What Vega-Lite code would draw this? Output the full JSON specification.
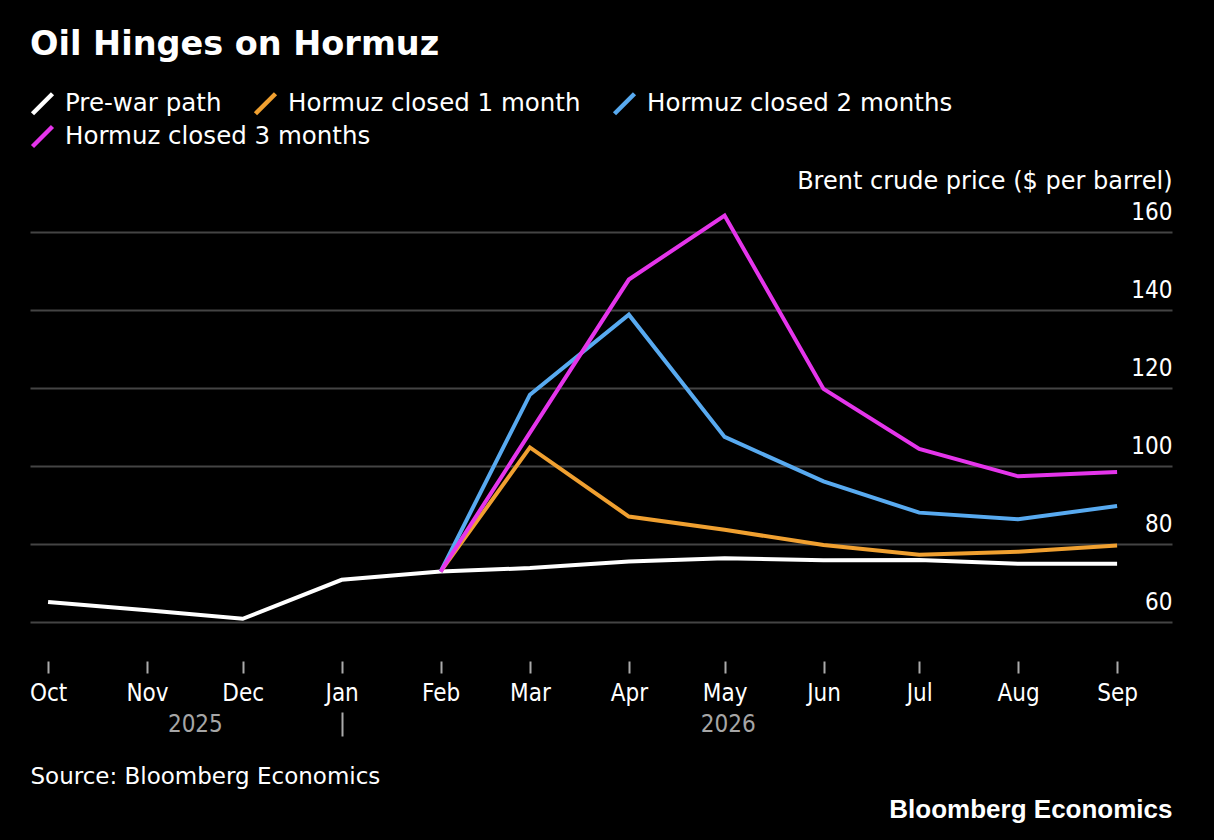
{
  "$schema": "https://vega.github.io/schema/vega-lite/v6.json",
  "width": 1142,
  "height": 449,
  "autosize": {"type": "none"},
  "padding": {"left": 30, "top": 212, "right": 42, "bottom": 179},
  "background": "#000000",
  "config": {
    "view": {"stroke": null},
    "legend": {
      "symbolType": "M-1,1L1,-1",
      "symbolSize": 400,
      "symbolStrokeWidth": 4.5,
      "labelFont": "DejaVu Sans",
      "labelFontSize": 24.5,
      "labelColor": "#ffffff",
      "labelLimit": 0,
      "labelOffset": 10,
      "columnPadding": 24,
      "rowPadding": 0
    }
  },
  "title": {
    "text": "Oil Hinges on Hormuz",
    "anchor": "start",
    "frame": "group",
    "font": "DejaVu Sans",
    "fontSize": 33.5,
    "fontWeight": "bold",
    "color": "#ffffff",
    "offset": 29
  },
  "data": {
    "values": [
      {"date": "2025-10-01", "series": "Pre-war path", "price": 65.1},
      {"date": "2025-11-01", "series": "Pre-war path", "price": 63.0},
      {"date": "2025-12-01", "series": "Pre-war path", "price": 60.8},
      {"date": "2026-01-01", "series": "Pre-war path", "price": 70.8},
      {"date": "2026-02-01", "series": "Pre-war path", "price": 72.9},
      {"date": "2026-03-01", "series": "Pre-war path", "price": 73.8},
      {"date": "2026-04-01", "series": "Pre-war path", "price": 75.5},
      {"date": "2026-05-01", "series": "Pre-war path", "price": 76.3},
      {"date": "2026-06-01", "series": "Pre-war path", "price": 75.8},
      {"date": "2026-07-01", "series": "Pre-war path", "price": 75.9},
      {"date": "2026-08-01", "series": "Pre-war path", "price": 74.9},
      {"date": "2026-09-01", "series": "Pre-war path", "price": 74.9},
      {"date": "2026-02-01", "series": "Hormuz closed 1 month", "price": 72.9},
      {"date": "2026-03-01", "series": "Hormuz closed 1 month", "price": 104.7},
      {"date": "2026-04-01", "series": "Hormuz closed 1 month", "price": 87.0},
      {"date": "2026-05-01", "series": "Hormuz closed 1 month", "price": 83.6},
      {"date": "2026-06-01", "series": "Hormuz closed 1 month", "price": 79.7},
      {"date": "2026-07-01", "series": "Hormuz closed 1 month", "price": 77.2},
      {"date": "2026-08-01", "series": "Hormuz closed 1 month", "price": 78.0},
      {"date": "2026-09-01", "series": "Hormuz closed 1 month", "price": 79.6},
      {"date": "2026-02-01", "series": "Hormuz closed 2 months", "price": 72.9},
      {"date": "2026-03-01", "series": "Hormuz closed 2 months", "price": 118.2},
      {"date": "2026-04-01", "series": "Hormuz closed 2 months", "price": 138.7},
      {"date": "2026-05-01", "series": "Hormuz closed 2 months", "price": 107.4},
      {"date": "2026-06-01", "series": "Hormuz closed 2 months", "price": 96.0},
      {"date": "2026-07-01", "series": "Hormuz closed 2 months", "price": 88.0},
      {"date": "2026-08-01", "series": "Hormuz closed 2 months", "price": 86.3},
      {"date": "2026-09-01", "series": "Hormuz closed 2 months", "price": 89.7},
      {"date": "2026-02-01", "series": "Hormuz closed 3 months", "price": 72.9},
      {"date": "2026-03-01", "series": "Hormuz closed 3 months", "price": 108.5},
      {"date": "2026-04-01", "series": "Hormuz closed 3 months", "price": 147.7},
      {"date": "2026-05-01", "series": "Hormuz closed 3 months", "price": 164.1},
      {"date": "2026-06-01", "series": "Hormuz closed 3 months", "price": 119.7},
      {"date": "2026-07-01", "series": "Hormuz closed 3 months", "price": 104.3},
      {"date": "2026-08-01", "series": "Hormuz closed 3 months", "price": 97.3},
      {"date": "2026-09-01", "series": "Hormuz closed 3 months", "price": 98.4}
    ]
  },
  "layer": [
    {
      "encoding": {
        "x": {
          "field": "date",
          "type": "temporal",
          "scale": {
            "type": "utc",
            "domain": [
              {"year": 2025, "month": 9, "date": 25, "hours": 8, "utc": true},
              {"year": 2026, "month": 9, "date": 18, "hours": 5, "utc": true}
            ]
          },
          "axis": {
            "orient": "bottom",
            "values": [
              {"year": 2025, "month": 10, "date": 1, "utc": true},
              {"year": 2025, "month": 11, "date": 1, "utc": true},
              {"year": 2025, "month": 12, "date": 1, "utc": true},
              {"year": 2026, "month": 1, "date": 1, "utc": true},
              {"year": 2026, "month": 2, "date": 1, "utc": true},
              {"year": 2026, "month": 3, "date": 1, "utc": true},
              {"year": 2026, "month": 4, "date": 1, "utc": true},
              {"year": 2026, "month": 5, "date": 1, "utc": true},
              {"year": 2026, "month": 6, "date": 1, "utc": true},
              {"year": 2026, "month": 7, "date": 1, "utc": true},
              {"year": 2026, "month": 8, "date": 1, "utc": true},
              {"year": 2026, "month": 9, "date": 1, "utc": true}
            ],
            "labelExpr": "utcFormat(datum.value, '%b')",
            "domain": false,
            "grid": false,
            "ticks": true,
            "tickSize": 12,
            "tickWidth": 2,
            "tickColor": "#aaaaaa",
            "labelFont": "DejaVu Sans Condensed, DejaVu Sans",
            "labelFontSize": 24,
            "labelColor": "#ffffff",
            "labelPadding": 8,
            "labelAngle": 0,
            "labelOverlap": false,
            "labelFlush": false,
            "title": "Source: Bloomberg Economics",
            "titleX": 0,
            "titleY": 122,
            "titleAlign": "left",
            "titleBaseline": "alphabetic",
            "titleFont": "DejaVu Sans",
            "titleFontSize": 23,
            "titleFontWeight": "normal",
            "titleColor": "#ffffff"
          }
        },
        "y": {
          "field": "price",
          "type": "quantitative",
          "scale": {"domain": [50, 165], "nice": false, "zero": false},
          "axis": {
            "orient": "right",
            "values": [60, 80, 100, 120, 140, 160],
            "grid": true,
            "gridColor": "#444444",
            "gridWidth": 2,
            "domain": false,
            "ticks": false,
            "tickSize": 0,
            "labelAlign": "right",
            "labelBaseline": "alphabetic",
            "labelPadding": 0,
            "labelOffset": -12,
            "labelFont": "DejaVu Sans Condensed, DejaVu Sans",
            "labelFontSize": 24,
            "labelColor": "#ffffff",
            "title": "Brent crude price ($ per barrel)",
            "titleAngle": 0,
            "titleAlign": "right",
            "titleBaseline": "alphabetic",
            "titleX": 0,
            "titleY": -24,
            "titleFont": "DejaVu Sans",
            "titleFontSize": 24,
            "titleFontWeight": "normal",
            "titleColor": "#ffffff"
          }
        }
      },
      "layer": [
        {
          "transform": [{"filter": "datum.series != 'Hormuz closed 3 months'"}],
          "mark": {"type": "line", "strokeWidth": 4, "strokeJoin": "miter"},
          "encoding": {
            "color": {
              "field": "series",
              "type": "nominal",
              "scale": {
                "domain": ["Pre-war path", "Hormuz closed 1 month", "Hormuz closed 2 months"],
                "range": ["#ffffff", "#f0a030", "#58aaf0"]
              },
              "legend": {
                "orient": "none",
                "legendX": 0,
                "legendY": -121,
                "direction": "horizontal",
                "title": null
              }
            }
          }
        },
        {
          "transform": [{"filter": "datum.series == 'Hormuz closed 3 months'"}],
          "mark": {"type": "line", "strokeWidth": 4, "strokeJoin": "miter"},
          "encoding": {
            "stroke": {
              "field": "series",
              "type": "nominal",
              "scale": {"domain": ["Hormuz closed 3 months"], "range": ["#e535eb"]},
              "legend": {
                "orient": "none",
                "legendX": 0,
                "legendY": -88,
                "direction": "horizontal",
                "title": null
              }
            }
          }
        }
      ]
    },
    {
      "mark": {"type": "point", "opacity": 0},
      "encoding": {
        "x": {
          "field": "date",
          "type": "temporal",
          "scale": {
            "type": "utc",
            "domain": [
              {"year": 2025, "month": 9, "date": 25, "hours": 8, "utc": true},
              {"year": 2026, "month": 9, "date": 18, "hours": 5, "utc": true}
            ]
          },
          "axis": {
            "orient": "bottom",
            "offset": 51,
            "values": [
              {"year": 2025, "month": 11, "date": 16, "utc": true},
              {"year": 2026, "month": 1, "date": 1, "utc": true},
              {"year": 2026, "month": 5, "date": 2, "utc": true}
            ],
            "labelExpr": "utcmonth(datum.value) == 0 ? '' : utcFormat(datum.value, '%Y')",
            "domain": false,
            "grid": false,
            "ticks": true,
            "tickSize": 24,
            "tickWidth": 2,
            "tickColor": {"condition": {"test": "utcmonth(datum.value) == 0", "value": "#aaaaaa"}, "value": "transparent"},
            "labelFont": "DejaVu Sans Condensed, DejaVu Sans",
            "labelFontSize": 24,
            "labelColor": "#a6a6a6",
            "labelPadding": -24,
            "labelAngle": 0,
            "labelOverlap": false,
            "labelFlush": false,
            "title": "Bloomberg Economics",
            "titleX": 1142,
            "titleY": 105,
            "titleAlign": "right",
            "titleBaseline": "alphabetic",
            "titleFont": "Liberation Sans",
            "titleFontSize": 26,
            "titleFontWeight": "bold",
            "titleColor": "#ffffff"
          }
        }
      }
    }
  ],
  "resolve": {"axis": {"x": "independent"}}
}
